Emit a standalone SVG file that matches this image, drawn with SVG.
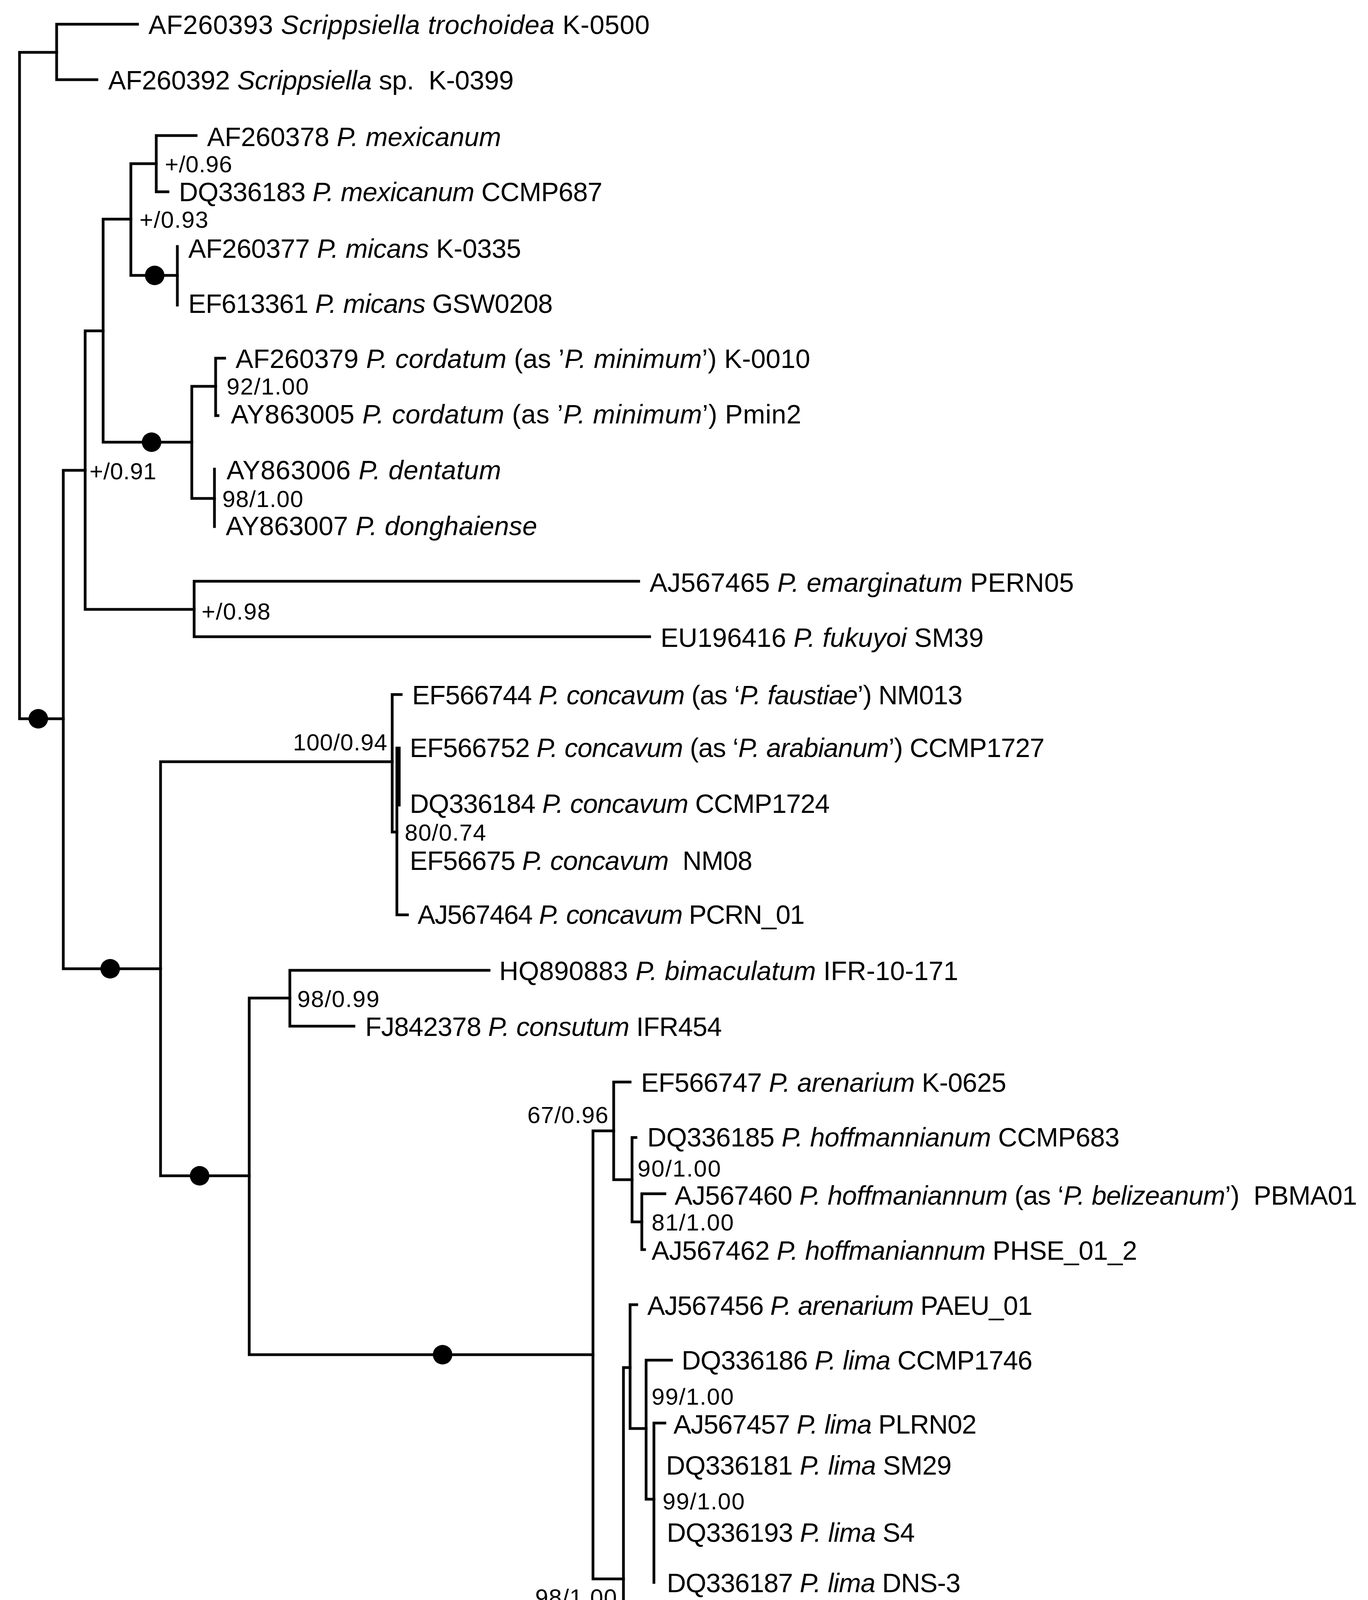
<svg xmlns="http://www.w3.org/2000/svg" width="3502" height="5233" viewBox="0 0 3502 5233">
<style>
.br{fill:none;stroke:#000;stroke-width:7;stroke-linecap:square}
.lab{font-family:"Liberation Sans",Arial,sans-serif;font-size:68px;fill:#000}
.sup{font-family:"Liberation Sans",Arial,sans-serif;font-size:60px;fill:#000}
.it{font-style:italic}
.dot{fill:#000}
</style>
<rect width="3502" height="5233" fill="#fff"/>
<g id="connectors">
<path class="br" d="M50 134V1840M50 134H145M50 1840H162"/>
<path class="br" d="M145 62V204M145 62H352M145 204H248"/>
<path class="br" d="M162 1204V2480M162 1204H218M162 2480H411"/>
<path class="br" d="M218 847V1560M218 847H264M218 1560H497"/>
<path class="br" d="M264 561V1132M264 561H335M264 1132H491"/>
<path class="br" d="M335 419V705M335 419H400M335 705H454"/>
<path class="br" d="M400 347V491M400 347H502M400 491H430"/>
<path class="br" d="M454 631V781"/>
<path class="br" d="M491 989V1276M491 989H552M491 1276H549"/>
<path class="br" d="M552 917V1064M552 917H575M552 1064H558"/>
<path class="br" d="M549 1201V1348"/>
<path class="br" d="M497 1488V1630M497 1488H1635M497 1630H1663"/>
<path class="br" d="M411 1950V3010M411 1950H1004M411 3010H638"/>
<path class="br" d="M1004 1778V2130M1004 1778H1027M1004 2130H1016"/>
<path class="br" d="M1016 1915V2342M1016 2342H1043M1022 1915V2061"/>
<path class="br" d="M638 2555V3468M638 2555H742M638 3468H1518"/>
<path class="br" d="M742 2484V2627M742 2484H1252M742 2627H906"/>
<path class="br" d="M1518 2895V4042M1518 2895H1571M1518 4042H1596"/>
<path class="br" d="M1571 2770V3020M1571 2770H1613M1571 3020H1618"/>
<path class="br" d="M1618 2912V3128M1618 2912H1628M1618 3128H1643"/>
<path class="br" d="M1643 3056V3199M1643 3056H1702M1643 3199H1650"/>
<path class="br" d="M1596 3501V4586M1596 3501H1613M1596 4586H1680"/>
<path class="br" d="M1613 3340V3657M1613 3340H1630M1613 3657H1654"/>
<path class="br" d="M1654 3482V3838M1654 3482H1719M1654 3838H1674"/>
<path class="br" d="M1674 3643V4051M1674 3643H1702"/>
<path class="br" d="M1680 4192V5047M1680 4477H1713M1680 4763H1702"/>
</g>
<g id="support-dots">
<circle class="dot" cx="396" cy="705" r="25"/>
<circle class="dot" cx="388" cy="1132" r="25"/>
<circle class="dot" cx="98" cy="1840" r="25"/>
<circle class="dot" cx="282" cy="2480" r="25"/>
<circle class="dot" cx="511" cy="3010" r="25"/>
<circle class="dot" cx="1133" cy="3468" r="25"/>
<circle class="dot" cx="1640" cy="4586" r="25"/>
</g>
<g id="support-labels" class="sup">
<text x="422" y="441" textLength="172">+/0.96</text>
<text x="357" y="583" textLength="176">+/0.93</text>
<text x="580" y="1010" textLength="210">92/1.00</text>
<text x="569" y="1298" textLength="207">98/1.00</text>
<text x="229" y="1227" textLength="171">+/0.91</text>
<text x="516" y="1586" textLength="176">+/0.98</text>
<text x="750" y="1921" textLength="241">100/0.94</text>
<text x="1036" y="2152" textLength="208">80/0.74</text>
<text x="761" y="2578" textLength="210">98/0.99</text>
<text x="1350" y="2875" textLength="207">67/0.96</text>
<text x="1632" y="3012" textLength="213">90/1.00</text>
<text x="1668" y="3150" textLength="210">81/1.00</text>
<text x="1668" y="3596" textLength="210">99/1.00</text>
<text x="1696" y="3864" textLength="210">99/1.00</text>
<text x="1370" y="4110" textLength="209">98/1.00</text>
</g>
<g id="leaf01"><text class="lab" x="380" y="87" textLength="1283">AF260393 <tspan class="it">Scrippsiella trochoidea</tspan> K-0500</text></g>
<g id="leaf02"><text class="lab" x="277" y="229" textLength="1038">AF260392 <tspan class="it">Scrippsiella</tspan> sp. &#160;K-0399</text></g>
<g id="leaf03"><text class="lab" x="530" y="374" textLength="753">AF260378 <tspan class="it">P. mexicanum</tspan></text></g>
<g id="leaf04"><text class="lab" x="458" y="515" textLength="1084">DQ336183 <tspan class="it">P. mexicanum</tspan> CCMP687</text></g>
<g id="leaf05"><text class="lab" x="482" y="660" textLength="852">AF260377 <tspan class="it">P. micans</tspan> K-0335</text></g>
<g id="leaf06"><text class="lab" x="482" y="801" textLength="933">EF613361 <tspan class="it">P. micans</tspan> GSW0208</text></g>
<g id="leaf07"><text class="lab" x="603" y="942" textLength="1471">AF260379 <tspan class="it">P. cordatum</tspan> (as ’<tspan class="it">P. minimum</tspan>’) K-0010</text></g>
<g id="leaf08"><text class="lab" x="591" y="1084" textLength="1460">AY863005 <tspan class="it">P. cordatum</tspan> (as ’<tspan class="it">P. minimum</tspan>’) Pmin2</text></g>
<g id="leaf09"><text class="lab" x="580" y="1227" textLength="703">AY863006 <tspan class="it">P. dentatum</tspan></text></g>
<g id="leaf10"><text class="lab" x="578" y="1370" textLength="797">AY863007 <tspan class="it">P. donghaiense</tspan></text></g>
<g id="leaf11"><text class="lab" x="1663" y="1515" textLength="1086">AJ567465 <tspan class="it">P. emarginatum</tspan> PERN05</text></g>
<g id="leaf12"><text class="lab" x="1691" y="1656" textLength="827">EU196416 <tspan class="it">P. fukuyoi</tspan> SM39</text></g>
<g id="leaf13"><text class="lab" x="1055" y="1803" textLength="1409">EF566744 <tspan class="it">P. concavum</tspan> (as ‘<tspan class="it">P. faustiae</tspan>’) NM013</text></g>
<g id="leaf14"><text class="lab" x="1049" y="1938" textLength="1625">EF566752 <tspan class="it">P. concavum</tspan> (as ‘<tspan class="it">P. arabianum</tspan>’) CCMP1727</text></g>
<g id="leaf15"><text class="lab" x="1049" y="2081" textLength="1075">DQ336184 <tspan class="it">P. concavum</tspan> CCMP1724</text></g>
<g id="leaf16"><text class="lab" x="1049" y="2227" textLength="877">EF56675 <tspan class="it">P. concavum</tspan> &#160;NM08</text></g>
<g id="leaf17"><text class="lab" x="1069" y="2365" textLength="991">AJ567464 <tspan class="it">P. concavum</tspan> PCRN_01</text></g>
<g id="leaf18"><text class="lab" x="1278" y="2509" textLength="1175">HQ890883 <tspan class="it">P. bimaculatum</tspan> IFR-10-171</text></g>
<g id="leaf19"><text class="lab" x="935" y="2652" textLength="913">FJ842378 <tspan class="it">P. consutum</tspan> IFR454</text></g>
<g id="leaf20"><text class="lab" x="1641" y="2795" textLength="935">EF566747 <tspan class="it">P. arenarium</tspan> K-0625</text></g>
<g id="leaf21"><text class="lab" x="1657" y="2935" textLength="1209">DQ336185 <tspan class="it">P. hoffmannianum</tspan> CCMP683</text></g>
<g id="leaf22"><text class="lab" x="1727" y="3084" textLength="1747">AJ567460 <tspan class="it">P. hoffmaniannum</tspan> (as ‘<tspan class="it">P. belizeanum</tspan>’) &#160;PBMA01</text></g>
<g id="leaf23"><text class="lab" x="1668" y="3225" textLength="1243">AJ567462 <tspan class="it">P. hoffmaniannum</tspan> PHSE_01_2</text></g>
<g id="leaf24"><text class="lab" x="1657" y="3366" textLength="986">AJ567456 <tspan class="it">P. arenarium</tspan> PAEU_01</text></g>
<g id="leaf25"><text class="lab" x="1745" y="3506" textLength="898">DQ336186 <tspan class="it">P. lima</tspan> CCMP1746</text></g>
<g id="leaf26"><text class="lab" x="1724" y="3670" textLength="776">AJ567457 <tspan class="it">P. lima</tspan> PLRN02</text></g>
<g id="leaf27"><text class="lab" x="1705" y="3775" textLength="731">DQ336181 <tspan class="it">P. lima</tspan> SM29</text></g>
<g id="leaf28"><text class="lab" x="1707" y="3947" textLength="635">DQ336193 <tspan class="it">P. lima</tspan> S4</text></g>
<g id="leaf29"><text class="lab" x="1707" y="4076" textLength="752">DQ336187 <tspan class="it">P. lima</tspan> DNS-3</text></g>
<g id="leaf30"><text class="lab" x="1713" y="4217" textLength="762">AY259170 <tspan class="it">P. lima</tspan> PLLS01</text></g>
<g id="leaf31"><text class="lab" x="1713" y="4360" textLength="857">HQ414230 <tspan class="it">P. lima</tspan> Dn39EHU</text></g>
<g id="leaf32"><text class="lab" x="1741" y="4502" textLength="874">DQ336189 <tspan class="it">P. lima</tspan> Sorrento-1</text></g>
<g id="leaf33"><text class="lab" x="1749" y="4647" textLength="894" font-weight="bold">KX845009 &#160;<tspan class="it">P. lima</tspan> PLBZT14</text></g>
<g id="leaf34"><text class="lab" x="1727" y="4788" textLength="854">HQ414229 <tspan class="it">P. lima</tspan> Dn38EHU</text></g>
<g id="leaf35"><text class="lab" x="1724" y="4930" textLength="852">HQ414231 <tspan class="it">P. lima</tspan> Dn37EHU</text></g>
<g id="leaf36"><text class="lab" x="1724" y="5073" textLength="857">HQ414228 <tspan class="it">P. lima</tspan> Dn35EHU</text></g>
<g id="scale-bar">
<path class="br" d="M463 4960H608M463 4930V4986M608 4930V4986" style="stroke-linecap:butt"/>
<text class="sup" x="478" y="4918" font-size="56" textLength="108">0.05</text>
<text class="sup" x="179" y="5075" font-size="58" textLength="703">expected changes per site</text>
</g>
<g id="panel-label"><text x="1757" y="5202" text-anchor="middle" font-family="'Liberation Serif','Times New Roman',serif" font-size="80">(<tspan font-weight="bold">b</tspan>)</text></g>
</svg>
